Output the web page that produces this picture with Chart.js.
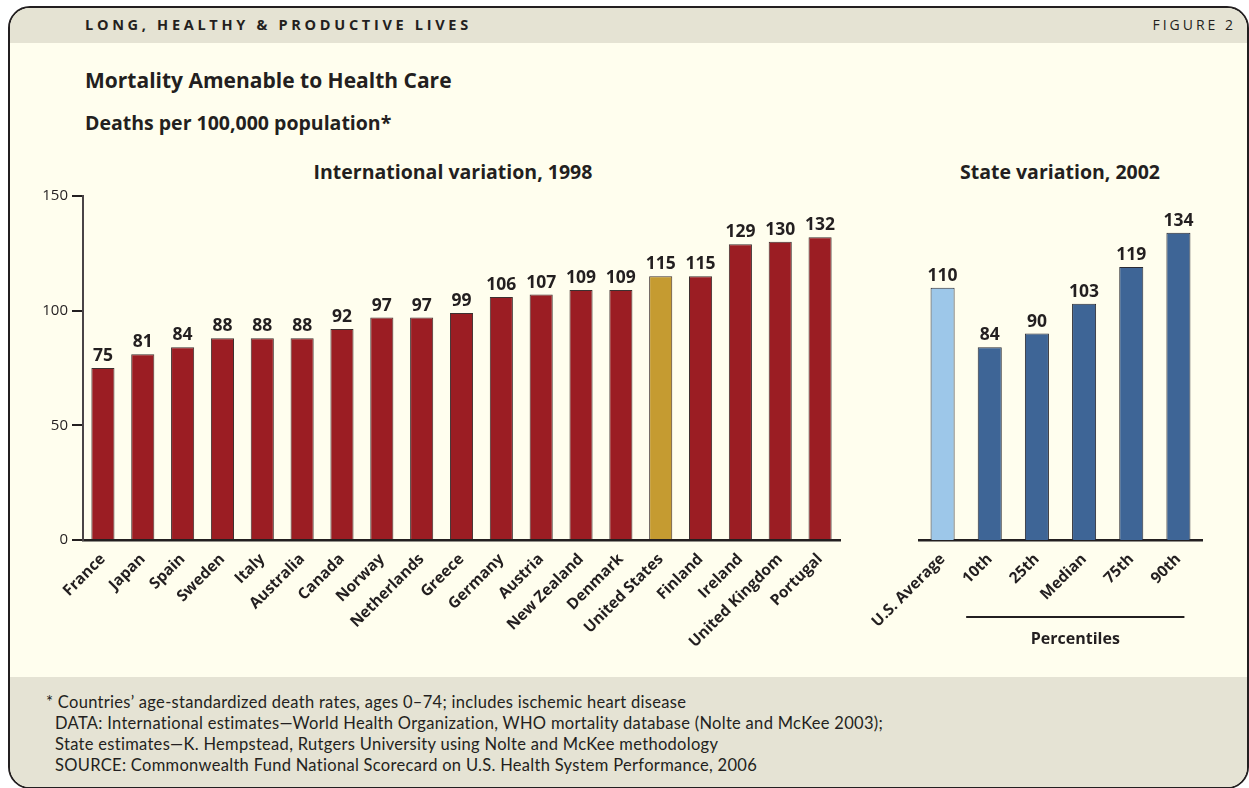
<!DOCTYPE html>
<html>
<head>
<meta charset="utf-8">
<script src="https://cdn.jsdelivr.net/npm/chart.js@4.4.1/dist/chart.umd.min.js"></script>
<style>
  html, body { margin: 0; padding: 0; background: #ffffff; }
  body { width: 1249px; height: 788px; position: relative; overflow: hidden; font-family: "Open Sans", "Noto Sans", sans-serif; color: #231f20; }
  #frame { position: absolute; left: 8px; top: 6px; width: 1237px; height: 779px; border: 2px solid #231f20; border-radius: 22px; background: #fffeee; overflow: hidden; }
  #head { position: absolute; left: 0; top: 0; width: 100%; height: 35px; background: #e5e3d3; }
  #foot { position: absolute; left: 0; top: 669px; width: 100%; height: 120px; background: #e5e3d4; }
  .abs { position: absolute; white-space: nowrap; }
  #kicker { left: 85px; top: 15px; font-size: 14.5px; font-weight: 700; letter-spacing: 3.7px; }
  #figno { right: 13px; top: 15px; font-size: 14px; letter-spacing: 3px; }
  #title { left: 85px; top: 66px; font-size: 21px; font-weight: 700; }
  #subtitle { left: 85px; top: 109px; font-size: 19.5px; font-weight: 700; }
  .ctitle { top: 158px; font-size: 19.5px; font-weight: 700; transform: translateX(-50%); }
  #notes { left: 46px; top: 692px; font-family: Lato, "Open Sans", sans-serif; font-size: 16.5px; letter-spacing: 0.3px; line-height: 21px; }
  canvas { position: absolute; }
</style>
</head>
<body>
<div id="frame"><div id="head"></div><div id="foot"></div></div>
<div class="abs" id="kicker">LONG, HEALTHY &amp; PRODUCTIVE LIVES</div>
<div class="abs" id="figno">FIGURE 2</div>
<div class="abs" id="title">Mortality Amenable to Health Care</div>
<div class="abs" id="subtitle">Deaths per 100,000 population*</div>
<div class="abs ctitle" style="left:453px">International variation, 1998</div>
<div class="abs ctitle" style="left:1060px">State variation, 2002</div>
<div class="abs" id="notes">* Countries’ age-standardized death rates, ages 0–74; includes ischemic heart disease<br>
&nbsp;&nbsp;DATA: International estimates—World Health Organization, WHO mortality database (Nolte and McKee 2003);<br>
&nbsp;&nbsp;State estimates—K. Hempstead, Rutgers University using Nolte and McKee methodology<br>
&nbsp;&nbsp;SOURCE: Commonwealth Fund National Scorecard on U.S. Health System Performance, 2006</div>

<canvas id="intl-chart" style="left:20px; top:186px; width:830px; height:494px"></canvas>
<canvas id="state-chart" style="left:850px; top:186px; width:362px; height:494px"></canvas>

<script>
const countries = ['France', 'Japan', 'Spain', 'Sweden', 'Italy', 'Australia', 'Canada', 'Norway', 'Netherlands', 'Greece',
    'Germany', 'Austria', 'New Zealand', 'Denmark', 'United States', 'Finland', 'Ireland', 'United Kingdom', 'Portugal'];
const countryRates = [75, 81, 84, 88, 88, 88, 92, 97, 97, 99, 106, 107, 109, 109, 115, 115, 129, 130, 132];

const stateLabels = ['U.S. Average', '10th', '25th', 'Median', '75th', '90th'];
const stateRates = [110, 84, 90, 103, 119, 134];

const yTicks = [0, 50, 100, 150];

const INK = '#231f20';
const RED = '#9b1d23';
const GOLD = '#c59b31';
const LIGHT_BLUE = '#9dc7e9';
const DARK_BLUE = '#3e6596';
const FONT = '"Open Sans", "Noto Sans", sans-serif';

const valueLabels = {
    id: 'valueLabels',
    afterDatasetsDraw(chart) {
        const ctx = chart.ctx;
        const meta = chart.getDatasetMeta(0);
        const values = chart.data.datasets[0].data;
        ctx.save();
        ctx.fillStyle = INK;
        ctx.font = `bold 17.5px ${FONT}`;
        ctx.textAlign = 'center';
        ctx.textBaseline = 'alphabetic';
        meta.data.forEach((bar, i) => {
            ctx.fillText(String(values[i]), bar.x, bar.y - 7);
        });
        ctx.restore();
    }
};

const percentileBracket = {
    id: 'percentileBracket',
    afterDraw(chart) {
        if (chart.canvas.id !== 'state-chart') return;
        const x = chart.scales.x;
        const half = (x.getPixelForValue(1) - x.getPixelForValue(0)) / 2;
        const x1 = x.getPixelForValue(1) - half;
        const x2 = x.getPixelForValue(stateLabels.length - 1) + 6;
        const ctx = chart.ctx;
        const y = chart.chartArea.bottom + 77;
        ctx.save();
        ctx.strokeStyle = INK;
        ctx.lineWidth = 2;
        ctx.beginPath();
        ctx.moveTo(x1, y);
        ctx.lineTo(x2, y);
        ctx.stroke();
        ctx.fillStyle = INK;
        ctx.font = `bold 16px ${FONT}`;
        ctx.textAlign = 'center';
        ctx.textBaseline = 'middle';
        ctx.fillText('Percentiles', (x1 + x2) / 2, y + 22);
        ctx.restore();
    }
};

function fixedXAxis(scale) {
    scale.height = 140;
    scale.paddingLeft = 0;
    scale.paddingRight = 0;
}

function buildOptions(showY, padding) {
    return {
        responsive: false,
        animation: false,
        layout: { padding },
        plugins: { legend: { display: false }, tooltip: { enabled: false } },
        scales: {
            x: {
                offset: true,
                grid: { display: false },
                border: { display: true, color: INK, width: 2.5 },
                ticks: {
                    color: INK,
                    font: { family: FONT, size: 15.5, weight: 'bold' },
                    minRotation: 45,
                    maxRotation: 45,
                    padding: 2,
                    autoSkip: false
                },
                afterFit: fixedXAxis
            },
            y: {
                display: showY,
                min: 0,
                max: 150,
                afterBuildTicks: (scale) => { scale.ticks = yTicks.map((v) => ({ value: v })); },
                grid: { drawOnChartArea: false, drawTicks: true, tickLength: 11, color: INK, lineWidth: 2 },
                border: { display: true, color: '#4a4446', width: 2 },
                ticks: {
                    color: INK,
                    font: { family: FONT, size: 15 },
                    padding: 4
                },
                afterFit: (scale) => {
                    scale.width = showY ? 63 : 0;
                    scale.paddingTop = 0;
                    scale.paddingBottom = 0;
                }
            }
        }
    };
}

function makeIntlChart() {
    const canvas = document.getElementById('intl-chart');
    canvas.width = 830;
    canvas.height = 494;
    new Chart(canvas.getContext('2d'), {
        type: 'bar',
        data: {
            labels: countries,
            datasets: [{
                data: countryRates,
                backgroundColor: countries.map((c) => (c === 'United States' ? GOLD : RED)),
                borderColor: '#3d3030',
                borderWidth: 1,
                barPercentage: 0.58,
                categoryPercentage: 1
            }]
        },
        options: buildOptions(true, { left: 0, right: 10, top: 10, bottom: 0 }),
        plugins: [valueLabels]
    });
}

function makeStateChart() {
    const canvas = document.getElementById('state-chart');
    canvas.width = 362;
    canvas.height = 494;
    new Chart(canvas.getContext('2d'), {
        type: 'bar',
        data: {
            labels: stateLabels,
            datasets: [{
                data: stateRates,
                backgroundColor: stateLabels.map((l, i) => (i === 0 ? LIGHT_BLUE : DARK_BLUE)),
                borderColor: '#2b2b33',
                borderWidth: 1,
                barPercentage: 0.51,
                categoryPercentage: 1
            }]
        },
        options: buildOptions(false, { left: 69, right: 10, top: 10, bottom: 0 }),
        plugins: [valueLabels, percentileBracket]
    });
}

makeIntlChart();
makeStateChart();
</script>
</body>
</html>
